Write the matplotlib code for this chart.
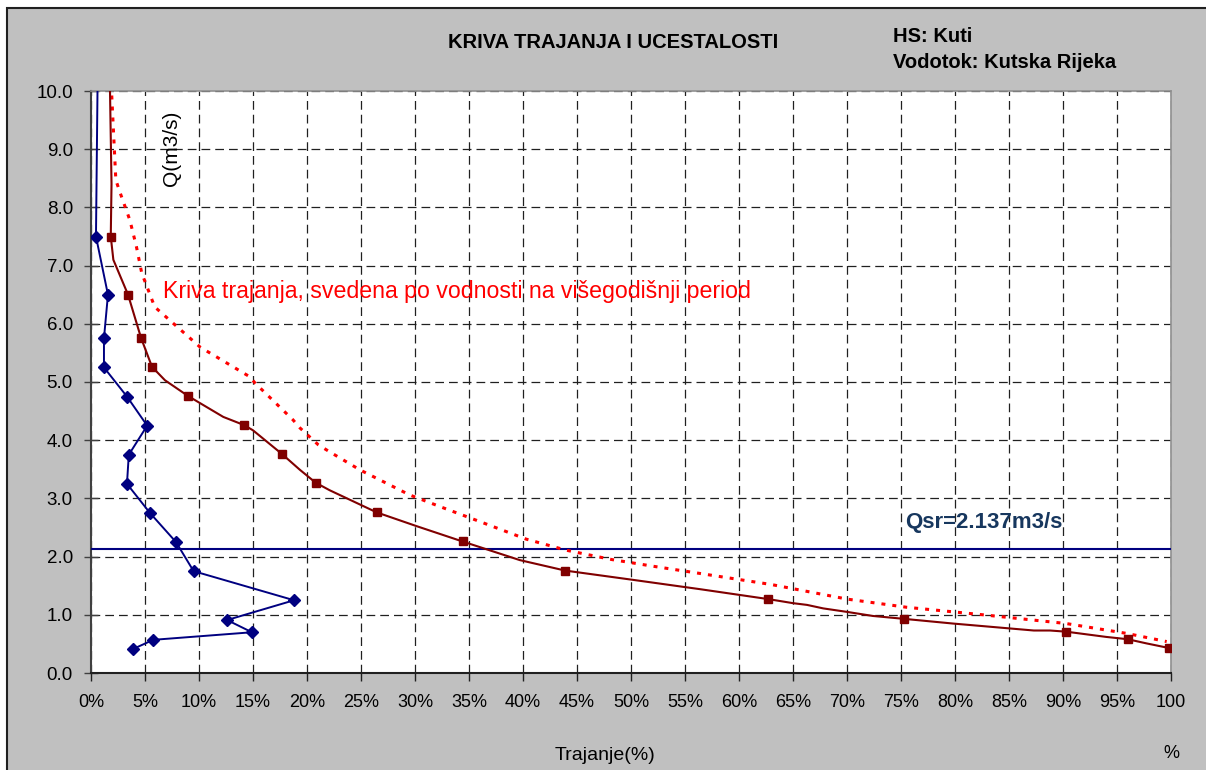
import matplotlib
matplotlib.use("Agg")
import matplotlib.pyplot as plt
from matplotlib.patches import Rectangle
from matplotlib.ticker import FuncFormatter

plt.rcParams['font.family'] = ['Liberation Sans', 'DejaVu Sans']

# Duration curve (dense line), x = duration %, y = Q (m3/s)
dur_line_x = [1.72, 1.76, 1.9, 1.83, 2.07, 3.43, 4.63, 5.65, 6.85, 8.98, 12.25, 14.17, 15.0,
              17.7, 19.35, 20.8, 22.1, 26.45, 30.2, 34.4, 39.7, 43.9, 50.2, 56.4, 62.7, 65.0,
              66.3, 67.8, 70.0, 72.4, 75.3, 79.8, 87.3, 88.8, 90.3, 94.0, 96.0, 97.7, 99.8]
dur_line_y = [10.3, 10.0, 8.4, 7.5, 7.1, 6.5, 5.76, 5.26, 5.03, 4.76, 4.4, 4.26, 4.17,
              3.76, 3.49, 3.27, 3.14, 2.76, 2.52, 2.26, 1.94, 1.76, 1.60, 1.44, 1.27, 1.2,
              1.17, 1.11, 1.05, 0.98, 0.93, 0.85, 0.73, 0.73, 0.71, 0.62, 0.58, 0.51, 0.43]

# Duration curve class points (square markers)
dur_pts_x = [1.83, 3.43, 4.63, 5.65, 8.98, 14.17, 17.7, 20.8, 26.45, 34.4, 43.9, 62.7,
             75.3, 90.3, 96.0, 99.8]
dur_pts_y = [7.5, 6.5, 5.76, 5.26, 4.76, 4.26, 3.76, 3.27, 2.76, 2.26, 1.76, 1.27,
             0.93, 0.71, 0.58, 0.43]

# Frequency curve (blue diamonds)
freq_x = [0.63, 0.46, 1.57, 1.2, 1.2, 3.33, 5.2, 3.5, 3.33, 5.46, 7.87, 9.5, 18.8,
          12.6, 14.9, 5.77, 3.86]
freq_y = [10.5, 7.5, 6.5, 5.75, 5.25, 4.75, 4.25, 3.75, 3.25, 2.75, 2.25, 1.75, 1.25,
          0.91, 0.70, 0.57, 0.41]

# Reduced duration curve (red dotted)
red_x = [1.88, 1.9, 2.3, 2.7, 3.6, 4.2, 4.7, 5.9, 10.1, 14.7, 15.2, 18.7, 19.35, 21.05,
         22.1, 24.9, 29.5, 32.3, 35.6, 40.3, 44.0, 48.2, 52.2, 56.4, 63.0, 70.0, 75.5,
         82.6, 90.3, 95.9, 99.6]
red_y = [10.3, 10.0, 8.47, 8.25, 7.78, 7.33, 6.87, 6.29, 5.6, 5.09, 4.98, 4.35, 4.21, 3.92,
         3.80, 3.49, 3.06, 2.86, 2.63, 2.30, 2.11, 1.95, 1.83, 1.71, 1.52, 1.27, 1.13,
         1.0, 0.85, 0.68, 0.54]

q_mean = 2.137
x_ticks = list(range(0, 101, 5))
x_tick_labels = [f"{v}%" for v in x_ticks[:-1]] + ["100\n%"]
y_ticks = [0, 1, 2, 3, 4, 5, 6, 7, 8, 9, 10]

W, H = 1206, 770
fig = plt.figure(figsize=(W / 100, H / 100), dpi=100, facecolor='white')

# grey chart area with dark border
fig.patches.append(Rectangle((7 / W, -0.02), 1.02, (H - 8) / H + 0.02,
                             transform=fig.transFigure, facecolor='#c0c0c0',
                             edgecolor='#202020', lw=1.5, zorder=-10))

ax = fig.add_axes([91 / W, (H - 673) / H, (1171 - 91) / W, (673 - 91) / H])
ax.set_facecolor('white')
ax.set_xlim(0, 100)
ax.set_ylim(0, 10)

ax.set_xticks(x_ticks)
ax.set_xticklabels(x_tick_labels, fontsize=13, va='top', linespacing=3.6)
ax.set_yticks(y_ticks)
ax.yaxis.set_major_formatter(FuncFormatter(lambda v, p: f"{v:.1f}"))
ax.tick_params(axis='y', labelsize=13.5, direction='inout', length=10, width=1,
               color='#404040', pad=8)
ax.tick_params(axis='x', direction='out', length=6, width=1, color='#202020', pad=9)

ax.grid(True, color='#202020', linestyle=(0, (7, 4)), lw=0.9)
ax.set_axisbelow(True)

for s in ['top', 'right']:
    ax.spines[s].set_color('#909090')
    ax.spines[s].set_linewidth(1.2)
ax.spines['left'].set_color('#404040')
ax.spines['left'].set_linewidth(1.5)
ax.spines['bottom'].set_color('#202020')
ax.spines['bottom'].set_linewidth(1.5)

# Qsr line
ax.axhline(q_mean, color='#000080', lw=1.5, zorder=3)

# reduced duration curve (dotted red)
ax.plot(red_x, red_y, color='#ff0000', lw=2.2, linestyle=(0, (1.3, 2.3)), zorder=4)
# duration curve
ax.plot(dur_line_x, dur_line_y, color='#800000', lw=1.5, zorder=5)
ax.plot(dur_pts_x, dur_pts_y, linestyle='none', marker='s', ms=5.5,
        color='#800000', zorder=6)
# frequency curve
ax.plot(freq_x, freq_y, color='#000080', lw=1.4, marker='D', ms=5.8, zorder=7)

ax.text(6.7, 6.55, "Kriva trajanja, svedena po vodnosti na višegodišnji period",
        color='#ff0000', fontsize=16.7, va='center', ha='left', zorder=8)
ax.text(75.4, 2.59, "Qsr=2.137m3/s", color='#17375e', fontsize=16,
        fontweight='bold', va='center', ha='left', zorder=8)
ax.text(7.5, 9.02, "Q(m3/s)", rotation=90, fontsize=15, va='center', ha='center',
        zorder=8)

fig.text(605 / W, 1 - 755 / H, "Trajanje(%)", fontsize=14, ha='center', va='center')
fig.text(613 / W, 1 - 42 / H, "KRIVA TRAJANJA I UCESTALOSTI", fontsize=14.5,
         fontweight='bold', ha='center', va='center')
fig.text(893 / W, 1 - 37 / H, "HS: Kuti", fontsize=14.5, fontweight='bold',
         ha='left', va='center')
fig.text(893 / W, 1 - 63 / H, "Vodotok: Kutska Rijeka", fontsize=14.5,
         fontweight='bold', ha='left', va='center')

fig.savefig("out.png", dpi=100, facecolor='white')
